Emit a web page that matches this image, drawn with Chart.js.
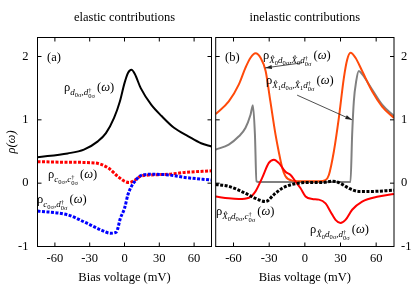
<!DOCTYPE html>
<html>
<head>
<meta charset="utf-8">
<script src="https://cdn.jsdelivr.net/npm/chart.js@4"></script>
<style>
  body { margin: 0; background: #fff; }
  #wrap { position: relative; width: 415px; height: 291px; overflow: hidden; }
  canvas { position: absolute; top: 0; }
  .lab { position: absolute; font-family: "Liberation Serif", "Times New Roman", serif; font-size: 12.5px; line-height: 14px; white-space: nowrap; color: #000; }
  .lab i { font-style: italic; }
  .sb { font-size: 9px; font-style: italic; vertical-align: -4px; margin-right: 2px; }
  .sb2 { font-size: 6.5px; font-style: normal; vertical-align: -2px; }
  .st { display: inline-flex; flex-direction: column; font-size: 6.5px; line-height: 5.5px; font-style: normal; vertical-align: 3px; }
</style>
</head>
<body>
<div id="wrap">
  <canvas id="left" width="213" height="291" style="left:0;width:213px;height:291px"></canvas>
  <canvas id="right" width="202" height="291" style="left:213px;width:202px;height:291px"></canvas>

  <div class="lab" style="left:47px;top:50px">(a)</div>
  <div class="lab" style="left:225px;top:50px">(b)</div>

  <div class="lab" style="left:64px;top:80px">ρ<span class="sb">d<span class="sb2">0σ</span>,d<span class="st"><span>†</span><span>0σ</span></span></span>(<i>ω</i>)</div>
  <div class="lab" style="left:48px;top:167px">ρ<span class="sb">c<span class="sb2">0σ</span>,c<span class="st"><span>†</span><span>0σ</span></span></span>(<i>ω</i>)</div>
  <div class="lab" style="left:37px;top:192px">ρ<span class="sb">c<span class="sb2">0σ</span>,d<span class="st"><span>†</span><span>0σ</span></span></span>(<i>ω</i>)</div>

  <div class="lab" style="left:263px;top:48px">ρ<span class="sb">X̂<span class="sb2">0</span>d<span class="sb2">0σ</span>,X̂<span class="sb2">0</span>d<span class="st"><span>†</span><span>0σ</span></span></span>(<i>ω</i>)</div>
  <div class="lab" style="left:266px;top:73px">ρ<span class="sb">X̂<span class="sb2">1</span>d<span class="sb2">0σ</span>,X̂<span class="sb2">1</span>d<span class="st"><span>†</span><span>0σ</span></span></span>(<i>ω</i>)</div>
  <div class="lab" style="left:216px;top:204px">ρ<span class="sb">X̂<span class="sb2">0</span>d<span class="sb2">0σ</span>,c<span class="st"><span>†</span><span>0σ</span></span></span>(<i>ω</i>)</div>
  <div class="lab" style="left:310px;top:222px">ρ<span class="sb">X̂<span class="sb2">0</span>d<span class="sb2">0σ</span>,d<span class="st"><span>†</span><span>0σ</span></span></span>(<i>ω</i>)</div>
</div>

<script>
// ticks
const xTicks = [-60, -30, 0, 30, 60];
const yTicks = [-1, 0, 1, 2];

// (a) elastic contributions
const ddX = [-75, -49, -35, -23, -16, -9, -4, 0, 3, 6, 9, 14, 23, 32, 43, 55, 66, 75];
const ddY = [0.41, 0.47, 0.53, 0.66, 0.79, 1.03, 1.29, 1.58, 1.74, 1.79, 1.72, 1.50, 1.24, 1.06, 0.87, 0.74, 0.63, 0.58];

const ccX = [-75, -49, -26, -14, -6, 0, 4, 9, 14, 23, 38, 52, 75];
const ccY = [0.34, 0.33, 0.32, 0.24, 0.11, 0.03, 0.01, 0.05, 0.11, 0.13, 0.14, 0.17, 0.195];

const cdX = [-75, -49, -35, -20, -12, -7, -3.5, 0, 3, 6, 9, 14, 23, 38, 52, 75];
const cdY = [-0.44, -0.50, -0.61, -0.74, -0.79, -0.77, -0.55, -0.40, -0.18, -0.05, 0.03, 0.12, 0.14, 0.13, 0.09, 0.05];

// (b) inelastic contributions
const x0x0X = [-75, -64, -55.5, -50, -45.7, -41.5, -37.3, -33, -29, -24.7, -22, -19, -16.3, -10.7, 0, 12, 17.4, 20.2, 24.4, 28.6, 32.8, 35.6, 38.4, 42.6, 48.2, 56.6, 65, 75];
const x0x0Y = [1.09, 1.29, 1.56, 1.82, 1.98, 2.05, 1.98, 1.77, 1.29, 0.77, 0.50, 0.24, 0.11, 0.04, 0.03, 0.03, 0.05, 0.13, 0.50, 1.03, 1.66, 1.95, 2.06, 1.98, 1.77, 1.45, 1.21, 1.03];

const x1x1X = [-75, -64, -55.5, -50, -45.7, -43.7, -42, -40.7, -39, 0, 38.4, 39.8, 41.2, 43.2, 45.4, 48.2, 56.6, 65, 75];
const x1x1Y = [0.53, 0.61, 0.74, 0.87, 1.08, 1.23, 0.77, 0.03, 0.02, 0.02, 0.02, 0.77, 1.29, 1.61, 1.77, 1.72, 1.48, 1.24, 1.06];

const x0dX = [-75, -64, -55.5, -47, -41.5, -36, -30.3, -26, -22, -16.3, -12, -8, -3.6, 0.6, 6.2, 11.8, 17.4, 21.6, 25.8, 30, 34.2, 39.8, 48.2, 62, 75];
const x0dY = [-0.21, -0.24, -0.25, -0.23, -0.13, 0.08, 0.32, 0.37, 0.32, 0.18, 0.13, 0.03, -0.08, -0.21, -0.25, -0.26, -0.32, -0.45, -0.58, -0.63, -0.58, -0.42, -0.29, -0.21, -0.17];

const x0cX = [-75, -64, -50, -41.5, -33, -26, -19, -10.7, 0.6, 14.6, 23, 28.6, 37, 45.4, 56.6, 75];
const x0cY = [-0.02, -0.05, -0.16, -0.24, -0.29, -0.18, -0.08, -0.02, 0.01, 0.01, 0.03, 0.01, -0.08, -0.13, -0.13, -0.11];

// arrows in data coords (panel b)
const arrows = [
  { from: [-2.3, 1.90], to: [-33.4, 1.82] },
  { from: [-6.5, 1.39], to: [39.7, 1.00] }
];

const FONT = "'Liberation Serif', 'Times New Roman', serif";
const pts = (xs, ys) => xs.map((x, i) => ({ x, y: ys[i] }));

function line(xs, ys, color, dotted) {
  return {
    data: pts(xs, ys),
    borderColor: color,
    borderWidth: dotted ? 3 : 2,
    borderDash: dotted ? [3, 1.5] : [],
    borderCapStyle: "butt",
    pointRadius: 0,
    fill: false,
    cubicInterpolationMode: "monotone"
  };
}

// frame with inward ticks, panel title, arrows
const framePlugin = {
  id: "frame",
  afterDatasetsDraw(chart, args, opts) {
    const { ctx, chartArea: a, scales: { x, y } } = chart;
    ctx.save();
    ctx.strokeStyle = "#000";
    ctx.lineWidth = 1;
    ctx.strokeRect(a.left, a.top, a.right - a.left, a.bottom - a.top);
    ctx.beginPath();
    x.ticks.forEach(t => {
      const px = x.getPixelForValue(t.value);
      ctx.moveTo(px, a.bottom); ctx.lineTo(px, a.bottom - 4);
      ctx.moveTo(px, a.top); ctx.lineTo(px, a.top + 4);
    });
    y.ticks.forEach(t => {
      const py = y.getPixelForValue(t.value);
      ctx.moveTo(a.left, py); ctx.lineTo(a.left + 4, py);
      ctx.moveTo(a.right, py); ctx.lineTo(a.right - 4, py);
    });
    ctx.stroke();

    ctx.fillStyle = "#000";
    ctx.font = "12.5px " + FONT;
    ctx.textAlign = "center";
    ctx.textBaseline = "middle";
    ctx.fillText(opts.title, (a.left + a.right) / 2, 18);

    (opts.arrows || []).forEach(ar => {
      const x1 = x.getPixelForValue(ar.from[0]), y1 = y.getPixelForValue(ar.from[1]);
      const x2 = x.getPixelForValue(ar.to[0]), y2 = y.getPixelForValue(ar.to[1]);
      const ang = Math.atan2(y2 - y1, x2 - x1);
      ctx.strokeStyle = "#222";
      ctx.fillStyle = "#222";
      ctx.lineWidth = 0.8;
      ctx.beginPath();
      ctx.moveTo(x1, y1); ctx.lineTo(x2, y2);
      ctx.stroke();
      ctx.beginPath();
      ctx.moveTo(x2, y2);
      ctx.lineTo(x2 - 7 * Math.cos(ang - 0.3), y2 - 7 * Math.sin(ang - 0.3));
      ctx.lineTo(x2 - 7 * Math.cos(ang + 0.3), y2 - 7 * Math.sin(ang + 0.3));
      ctx.closePath();
      ctx.fill();
    });
    ctx.restore();
  }
};

function makeChart(id, title, datasets, side, pad, yWidth, arrowList) {
  return new Chart(document.getElementById(id), {
    type: "line",
    data: { datasets },
    options: {
      responsive: false,
      animation: false,
      layout: { padding: pad },
      plugins: {
        legend: { display: false },
        tooltip: { enabled: false },
        title: { display: false },
        frame: { title, arrows: arrowList }
      },
      scales: {
        x: {
          type: "linear",
          min: -75,
          max: 75,
          afterBuildTicks: s => { s.ticks = xTicks.map(v => ({ value: v })); },
          afterFit: s => { s.height = 44.5; },
          grid: { display: false, drawTicks: false },
          border: { display: false },
          ticks: { color: "#000", padding: 5, font: { family: FONT, size: 12.5 } },
          title: {
            display: true,
            text: "Bias voltage (mV)",
            color: "#000",
            font: { family: FONT, size: 12.5 },
            padding: { top: 0, bottom: 6 }
          }
        },
        y: {
          type: "linear",
          position: side,
          min: -1,
          max: 2.3,
          afterBuildTicks: s => { s.ticks = yTicks.map(v => ({ value: v })); },
          afterFit: s => { s.width = yWidth; },
          grid: { display: false, drawTicks: false },
          border: { display: false },
          ticks: { color: "#000", padding: side === "left" ? 9 : 7, font: { family: FONT, size: 12.5 } },
          title: {
            display: side === "left",
            text: "ρ(ω)",
            color: "#000",
            font: { family: FONT, size: 12.5, style: "italic" },
            padding: { top: 4, bottom: 0 }
          }
        }
      }
    },
    plugins: [framePlugin]
  });
}

makeChart("left", "elastic contributions", [
  line(cdX, cdY, "#0000ff", true),
  line(ccX, ccY, "#ff0000", true),
  line(ddX, ddY, "#000000", false)
], "left", { left: 0, right: 1.5, top: 37.5, bottom: 0 }, 37.5, []);

makeChart("right", "inelastic contributions", [
  line(x0cX, x0cY, "#000000", true),
  line(x0dX, x0dY, "#ff0000", false),
  line(x0x0X, x0x0Y, "#ff4a0a", false),
  line(x1x1X, x1x1Y, "#808080", false)
], "right", { left: 2.7, right: 0, top: 37.5, bottom: 0 }, 21, arrows);
</script>
</body>
</html>
